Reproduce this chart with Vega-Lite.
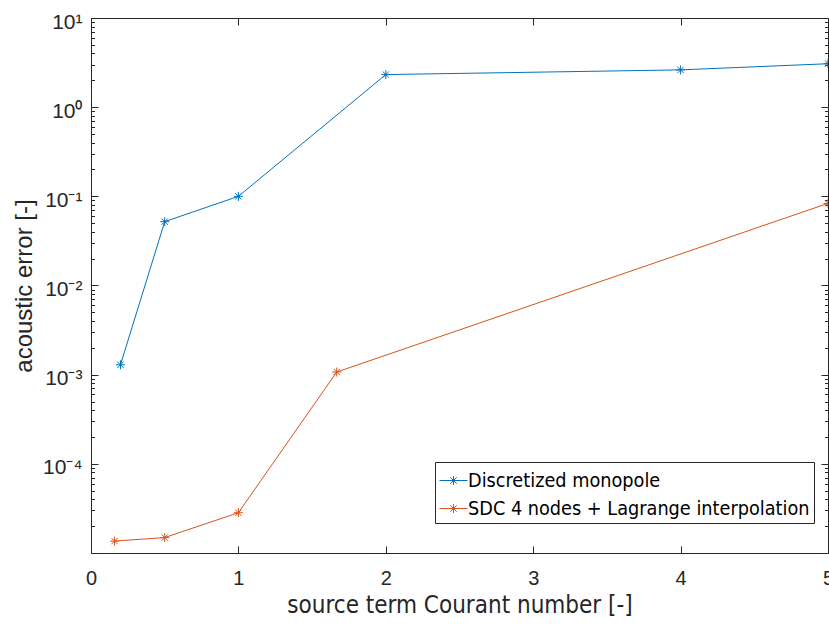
{
  "$schema": "https://vega.github.io/schema/vega-lite/v6.json",
  "autosize": {"type": "none"},
  "width": 737,
  "height": 535,
  "padding": {"left": 91, "top": 18, "right": 1, "bottom": 71},
  "background": "white",
  "config": {"view": {"stroke": null}},
  "data": {
    "values": [
      {"series": "Discretized monopole", "x": 0.2, "err": 0.00129},
      {"series": "Discretized monopole", "x": 0.5, "err": 0.052},
      {"series": "Discretized monopole", "x": 1, "err": 0.1},
      {"series": "Discretized monopole", "x": 2, "err": 2.32},
      {"series": "Discretized monopole", "x": 4, "err": 2.62},
      {"series": "Discretized monopole", "x": 5, "err": 3.07},
      {"series": "SDC 4 nodes + Lagrange interpolation", "x": 0.16, "err": 0.0000136},
      {"series": "SDC 4 nodes + Lagrange interpolation", "x": 0.5, "err": 0.0000149},
      {"series": "SDC 4 nodes + Lagrange interpolation", "x": 1, "err": 0.0000283},
      {"series": "SDC 4 nodes + Lagrange interpolation", "x": 1.667, "err": 0.00107},
      {"series": "SDC 4 nodes + Lagrange interpolation", "x": 5, "err": 0.0834}
    ]
  },
  "resolve": {"axis": {"x": "independent", "y": "independent"}},
  "layer": [
    {
      "mark": {"type": "line", "strokeWidth": 1, "clip": true},
      "encoding": {
        "x": {
          "field": "x", "type": "quantitative",
          "scale": {"domain": [0, 5], "nice": false, "zero": false},
          "axis": {
            "orient": "bottom", "values": [0, 1, 2, 3, 4, 5], "format": "d",
            "grid": false, "labelFlush": false, "labelOverlap": false,
            "labelFont": "Liberation Sans", "labelFontSize": 20, "labelColor": "#262626",
            "labelPadding": 22,
            "tickSize": -7, "tickColor": "#262626", "domainColor": "#262626",
            "title": "source term Courant number [-]",
            "titleFont": "DejaVu Sans Condensed, DejaVu Sans", "titleFontSize": 24, "titleFontWeight": "normal",
            "titleColor": "#262626", "titlePadding": 5
          }
        },
        "y": {
          "field": "err", "type": "quantitative",
          "scale": {"type": "log", "domain": [0.00001, 10], "nice": false},
          "axis": {
            "orient": "left",
            "values": [0.0001, 0.001, 0.01, 0.1, 1, 10],
            "labelExpr": "datum.value >= 5 ? '10¹' : datum.value >= 0.5 ? '10⁰' : datum.value >= 0.05 ? '10⁻¹' : datum.value >= 0.005 ? '10⁻²' : datum.value >= 0.0005 ? '10⁻³' : '10⁻⁴'",
            "grid": false, "labelOverlap": false, "labelFlush": false,
            "labelFont": "Liberation Sans", "labelFontSize": 21, "labelColor": "#262626",
            "labelPadding": 16, "labelOffset": 4,
            "tickSize": -7, "tickColor": "#262626", "domainColor": "#262626",
            "title": "acoustic error [-]",
            "titleFont": "Liberation Sans", "titleFontSize": 24, "titleFontWeight": "normal",
            "titleColor": "#262626", "titlePadding": 6
          }
        },
        "color": {
          "field": "series", "type": "nominal",
          "scale": {"domain": ["Discretized monopole", "SDC 4 nodes + Lagrange interpolation"], "range": ["#0072BD", "#D95319"]},
          "legend": {
            "orient": "none", "legendX": 344, "legendY": 444, "title": null,
            "strokeColor": "#262626", "fillColor": "white", "padding": 4,
            "labelFont": "DejaVu Sans Condensed, DejaVu Sans", "labelFontSize": 19.7, "labelColor": "#000000",
            "labelLimit": 600, "labelOffset": 0, "rowPadding": 3,
            "symbolType": "M-1,0L1,0M-0.32,0L0.32,0M0,-0.32L0,0.32M-0.23,-0.23L0.23,0.23M-0.23,0.23L0.23,-0.23",
            "symbolSize": 784, "symbolStrokeWidth": 1
          }
        }
      }
    },
    {
      "mark": {"type": "point", "shape": "M-1,0L1,0M0,-1L0,1M-0.7,-0.7L0.7,0.7M-0.7,0.7L0.7,-0.7", "filled": false, "size": 81, "strokeWidth": 1, "opacity": 1, "clip": true},
      "encoding": {
        "x": {
          "field": "x", "type": "quantitative",
          "scale": {"domain": [0, 5], "nice": false, "zero": false},
          "axis": {"orient": "top", "values": [0, 1, 2, 3, 4, 5], "labels": false, "grid": false, "title": null, "tickSize": -7, "tickColor": "#262626", "domainColor": "#262626"}
        },
        "y": {
          "field": "err", "type": "quantitative",
          "scale": {"type": "log", "domain": [0.00001, 10], "nice": false},
          "axis": {"orient": "right", "values": [0.0001, 0.001, 0.01, 0.1, 1, 10], "labels": false, "grid": false, "title": null, "tickSize": -7, "tickColor": "#262626", "domainColor": "#262626"}
        },
        "color": {
          "field": "series", "type": "nominal",
          "scale": {"domain": ["Discretized monopole", "SDC 4 nodes + Lagrange interpolation"], "range": ["#0072BD", "#D95319"]},
          "legend": {
            "orient": "none", "legendX": 344, "legendY": 444, "title": null,
            "strokeColor": "#262626", "fillColor": "white", "padding": 4,
            "labelFont": "DejaVu Sans Condensed, DejaVu Sans", "labelFontSize": 19.7, "labelColor": "#000000",
            "labelLimit": 600, "labelOffset": 0, "rowPadding": 3,
            "symbolType": "M-1,0L1,0M-0.32,0L0.32,0M0,-0.32L0,0.32M-0.23,-0.23L0.23,0.23M-0.23,0.23L0.23,-0.23",
            "symbolSize": 784, "symbolStrokeWidth": 1
          }
        }
      }
    },
    {
      "mark": {"type": "line", "opacity": 0, "clip": true},
      "encoding": {
        "x": {"field": "x", "type": "quantitative", "scale": {"domain": [0, 5], "nice": false, "zero": false}, "axis": null},
        "y": {
          "field": "err", "type": "quantitative",
          "scale": {"type": "log", "domain": [0.00001, 10], "nice": false},
          "axis": {"orient": "left", "values": [0.00002, 0.00003, 0.00004, 0.00005, 0.00006, 0.00007, 0.00008, 0.00009, 0.0002, 0.0003, 0.0004, 0.0005, 0.0006, 0.0007, 0.0008, 0.0009, 0.002, 0.003, 0.004, 0.005, 0.006, 0.007, 0.008, 0.009, 0.02, 0.03, 0.04, 0.05, 0.06, 0.07, 0.08, 0.09, 0.2, 0.3, 0.4, 0.5, 0.6, 0.7, 0.8, 0.9, 2, 3, 4, 5, 6, 7, 8, 9], "labels": false, "grid": false, "title": null, "domain": false, "tickSize": -3.5, "tickColor": "#262626"}
        },
        "detail": {"field": "series"}
      }
    },
    {
      "mark": {"type": "line", "opacity": 0, "clip": true},
      "encoding": {
        "x": {"field": "x", "type": "quantitative", "scale": {"domain": [0, 5], "nice": false, "zero": false}, "axis": null},
        "y": {
          "field": "err", "type": "quantitative",
          "scale": {"type": "log", "domain": [0.00001, 10], "nice": false},
          "axis": {"orient": "right", "values": [0.00002, 0.00003, 0.00004, 0.00005, 0.00006, 0.00007, 0.00008, 0.00009, 0.0002, 0.0003, 0.0004, 0.0005, 0.0006, 0.0007, 0.0008, 0.0009, 0.002, 0.003, 0.004, 0.005, 0.006, 0.007, 0.008, 0.009, 0.02, 0.03, 0.04, 0.05, 0.06, 0.07, 0.08, 0.09, 0.2, 0.3, 0.4, 0.5, 0.6, 0.7, 0.8, 0.9, 2, 3, 4, 5, 6, 7, 8, 9], "labels": false, "grid": false, "title": null, "domain": false, "tickSize": -3.5, "tickColor": "#262626"}
        },
        "detail": {"field": "series"}
      }
    }
  ]
}
